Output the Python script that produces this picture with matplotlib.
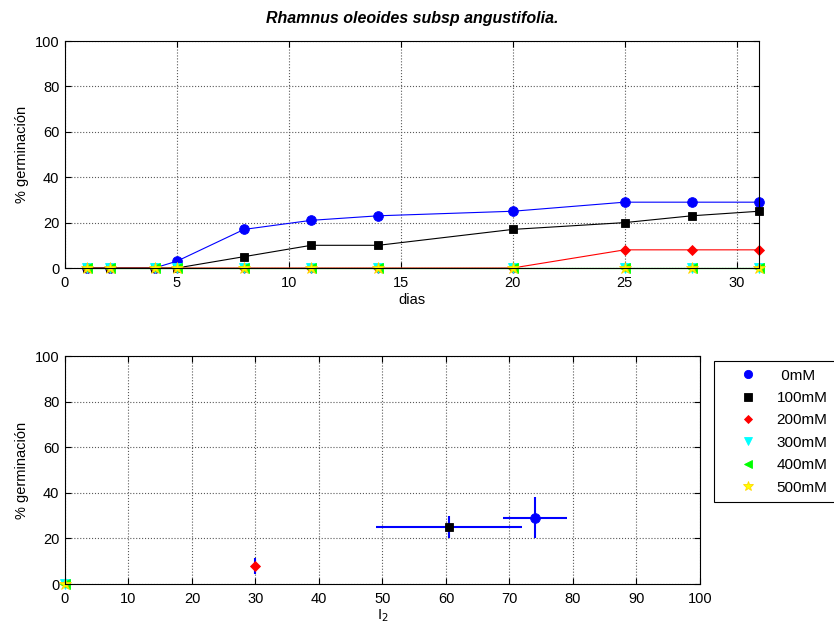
import matplotlib
matplotlib.use("Agg")
import matplotlib.pyplot as plt
import numpy as np

plt.rcParams['font.family'] = ['Liberation Sans', 'DejaVu Sans']
plt.rcParams['font.size'] = 10.5

# germination curves (days vs %)
dias = [1, 2, 4, 5, 8, 11, 14, 20, 25, 28, 31]
g_0mM = [0, 0, 0, 3, 17, 21, 23, 25, 29, 29, 29]
g_100mM = [0, 0, 0, 0, 5, 10, 10, 17, 20, 23, 25]
g_200mM = [0, 0, 0, 0, 0, 0, 0, 0, 8, 8, 8]
g_300mM = [0, 0, 0, 0, 0, 0, 0, 0, 0, 0, 0]
g_400mM = [0, 0, 0, 0, 0, 0, 0, 0, 0, 0, 0]
g_500mM = [0, 0, 0, 0, 0, 0, 0, 0, 0, 0, 0]

# I2 summary: mean, x error, final %, y error
labels = [' 0mM', '100mM', '200mM', '300mM', '400mM', '500mM']
i2 = [74, 60.5, 30, 0, 0, 0]
i2_err = [5, 11.5, 0, 0, 0, 0]
final = [29, 25, 8, 0, 0, 0]
final_err = [9, 5, 3.5, 0, 0, 0]

styles = [('b', 'o', 7), ('k', 's', 6), ('r', 'D', 5),
          ('cyan', 'v', 7), ('lime', '<', 7), ('yellow', '*', 9)]
edges = ['b', 'k', 'r', 'cyan', 'lime', 'gold']
series = [g_0mM, g_100mM, g_200mM, g_300mM, g_400mM, g_500mM]

fig = plt.figure(figsize=(8.34, 6.3), dpi=100)
ax1 = fig.add_axes([0.0779, 0.5746, 0.8321, 0.3603])
ax2 = fig.add_axes([0.0779, 0.0730, 0.7614, 0.3619])

for ys, (c, m, ms), ec in zip(series, styles, edges):
    ax1.plot(dias, ys, color=c, lw=0.8, marker=m, ms=ms,
             mfc=c, mec=ec, mew=0.6, clip_on=False)

ax1.set_xlim(0, 31)
ax1.set_ylim(0, 100)
ax1.set_xticks([0, 5, 10, 15, 20, 25, 30])
ax1.set_yticks([0, 20, 40, 60, 80, 100])
ax1.set_xlabel('dias', labelpad=2)
ax1.set_ylabel('% germinación')
ax1.set_title('Rhamnus oleoides subsp angustifolia.', fontweight='bold',
              fontstyle='italic', fontsize=11.5, pad=13)

handles = []
for k in range(len(labels)):
    c, m, ms = styles[k]
    ax2.errorbar(i2[k], final[k], xerr=i2_err[k], yerr=final_err[k],
                 fmt='none', ecolor='b', elinewidth=1.5, capsize=0, clip_on=False)
    h, = ax2.plot(i2[k], final[k], ls='none', marker=m, ms=ms, color=c,
                  mec=edges[k], mew=0.6, clip_on=False, label=labels[k])
    handles.append(h)

ax2.set_xlim(0, 100)
ax2.set_ylim(0, 100)
ax2.set_xticks(np.arange(0, 101, 10))
ax2.set_yticks([0, 20, 40, 60, 80, 100])
ax2.set_xlabel('I$_2$', labelpad=1)
ax2.set_ylabel('% germinación')

for ax in (ax1, ax2):
    ax.grid(True, ls=':', color='0.35', lw=0.8)
    ax.tick_params(direction='in', top=True, right=True, length=4, pad=6)
    ax.tick_params(axis='y', pad=4)
    for s in ax.spines.values():
        s.set_linewidth(0.8)

leg = fig.legend(handles=handles, loc='upper left',
                 bbox_to_anchor=(0.856, 0.427), borderaxespad=0,
                 frameon=True, fancybox=False, fontsize=11,
                 edgecolor='k', framealpha=1, handlelength=3.4,
                 handletextpad=0.2, borderpad=0.5, labelspacing=0.55,
                 markerscale=0.85)
leg.get_frame().set_linewidth(0.8)

fig.savefig('out.png', dpi=100)
